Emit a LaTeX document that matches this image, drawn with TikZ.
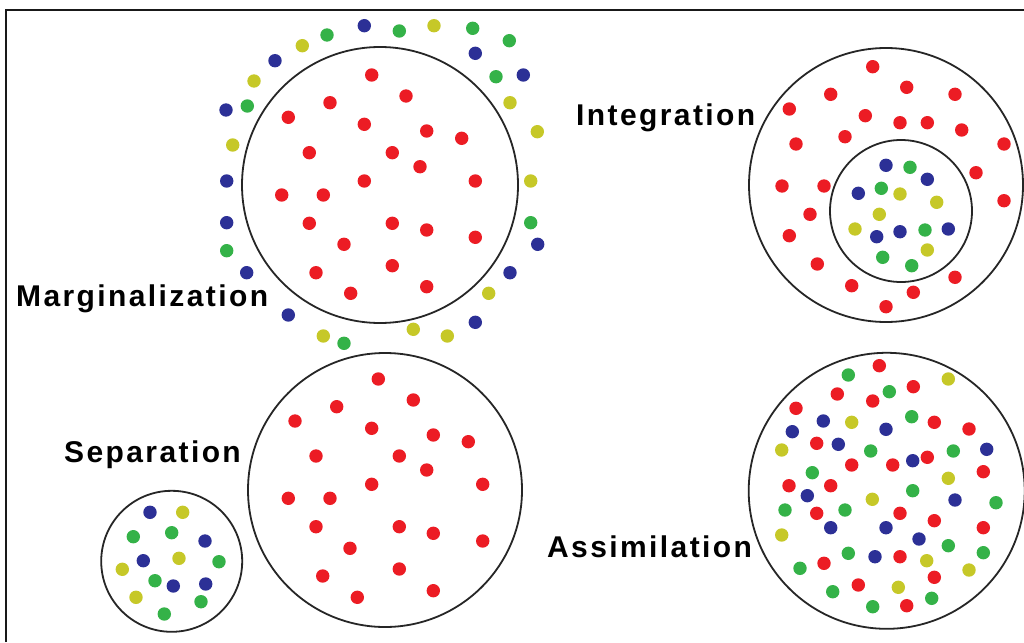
\documentclass[tikz,border=0pt]{standalone}
\usepackage{fontspec}
\newfontfamily\lblfam{Liberation Sans}[LetterSpace=8]
\definecolor{dred}{RGB}{236,28,36}
\definecolor{dgreen}{RGB}{52,178,72}
\definecolor{dblue}{RGB}{44,48,150}
\definecolor{dyellow}{RGB}{198,200,40}
\tikzset{
  ring/.style={draw=black!85, line width=1.8pt},
  lbl/.style={anchor=base west, inner sep=0pt, font=\lblfam\bfseries\fontsize{30}{35}\selectfont},
  frame/.style={draw=black!90, line width=2pt}
}
\newcommand{\mydots}[2]{\foreach \px/\py in {#2} {\fill[#1] (\px,\py) circle (6.7pt);}}
\begin{document}
\begin{tikzpicture}[x=1pt,y=-1pt]
\useasboundingbox (0,0) rectangle (1024,642);
\fill[white] (0,0) rectangle (1024,642);
\draw[frame] (6,642) -- (6,10) -- (1024,10);

% Marginalization
\draw[ring] (380,185) circle (138pt);
\mydots{dred}{371.7/75,406/96,330/102.7,288.3/117.3,364.3/124.3,426.7/131,461.7/138.3,309.3/152.7,392.3/152.7,420/166.7,364.3/181,475.3/181,281.7/195,323.3/195,309.3/223.3,392.3/223.3,426.7/230,475.3/237.3,344/244.3,392.3/265.7,316/272.7,426.7/286.7,350.7/293.3}
\mydots{dblue}{364.3/25.7,475.3/53.3,523.3/75,537.7/244.3,510/272.7,475.3/322.3,288.3/315,246.7/272.7,226.7/222.7,226.7/181,226/110,275/60.7}
\mydots{dgreen}{399.3/31,472.7/28.3,509.3/40.7,496/76.7,530.7/222.7,344/343.3,226.7/250.7,247.3/106,327/35}
\mydots{dyellow}{434/25.7,510/102.7,537.3/131.7,530.7/181,488.7/293.3,447.3/336,413.3/329.3,323.3/336,232.7/145,254/81,302.3/45.7}
\node[lbl] (marg) at (16,306) {Marginalization};

% Integration
\draw[ring] (886,185) circle (137pt);
\draw[ring] (901,211) circle (71pt);
\mydots{dred}{872.7/66.7,906.7/87.3,830.7/94.3,955/94.3,789.3/109,865.3/115.7,900/122.7,927.3/122.7,961.7/130,845/136.7,796/144,1004/144,976/172.7,782/186,824/186,1004/200.7,810/214.3,789.3/235.7,817.3/264,955/277.3,851.7/285.7,913.3/292.3,886/306.7}
\mydots{dblue}{886/165.3,927.3/179.3,858.3/193.3,876.7/236.7,900/231.7,948.3/229}
\mydots{dgreen}{910/167.3,881.3/188.3,925/230,882.7/257.3,911.7/265.7}
\mydots{dyellow}{900/194,936.7/202.3,879.3/214.3,855/229,927.3/250}
\node[lbl] (integ) at (576,125) {Integration};

% Separation
\draw[ring] (385,490) circle (137pt);
\draw[ring] (171.7,561.3) circle (70.5pt);
\mydots{dred}{378.3/379,413.3/400,336.7/406.7,295/421,371.7/428.3,433.3/435,468.3/441.7,316/456,399.3/456,426.7/470,371.7/484.3,482.7/484.3,288.3/498.3,330/498.3,316/526.7,399.3/526.7,433.3/533.3,482.7/541,350/548.3,399.3/569,322.7/576,433.3/590.7,357.3/597.3}
\mydots{dblue}{150/512.3,205/541,143.3/560.7,173.3/586,205.7/584}
\mydots{dgreen}{133.3/536.7,171.7/532.7,219/561.7,155/580.7,201/601.7,164.3/614}
\mydots{dyellow}{182.7/512.3,179/558.3,122.3/569.3,136/597.3}
\node[lbl] (sep) at (64,462) {Separation};

% Assimilation
\draw[ring] (886.7,490.8) circle (138pt);
\mydots{dred}{879.3/365.7,913.3/386.7,837.3/394,872.7/401,796/408.3,934.3/422.3,969/429,816.7/443.3,927.3/457.3,851.7/465,892.7/465,983.3/471.7,789/485.7,830.7/485.7,816.7/513.3,900/513.3,934.3/520.7,983.3/527.7,900/556.7,824/563.3,934.3/577.3,858.3/585,906.7/605.7}
\mydots{dblue}{823.3/421,792.3/431.7,886/429.3,838.3/444.3,986.7/449.3,912.7/460.7,807.3/495.7,955/500,830.7/527.7,886/527.7,919/539,875/556.7}
\mydots{dgreen}{848.3/375,889.3/391.7,911.7/416.7,870.7/451,953.3/451,812.3/472.7,912.7/490.7,996/502.7,785/510,845/510,948.3/545.7,848.3/553.3,983.3/552.7,800/568.3,832.7/591.7,931.7/598.3,872.7/606.7}
\mydots{dyellow}{948.3/379,851.7/422.3,781.7/450,948.3/478.3,872.3/499.3,781.7/535,926.7/560.7,969/570,898.3/587.3}
\node[lbl] (assim) at (547,557) {Assimilation};
\end{tikzpicture}
\end{document}
